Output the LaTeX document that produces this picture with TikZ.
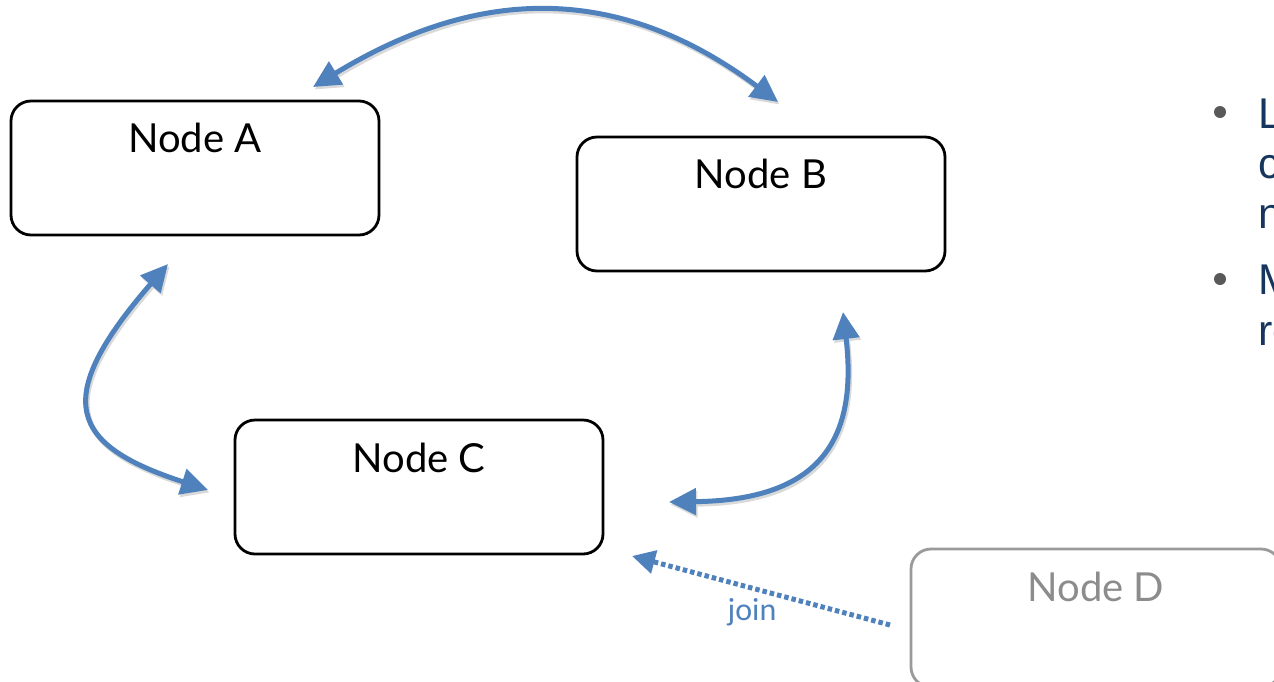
\documentclass[tikz,border=0pt]{standalone}
\usepackage{fontspec}
\setmainfont{Lato}
\newfontfamily\joinfont{Carlito}
\newfontfamily\listfont{Liberation Sans}
\usetikzlibrary{arrows.meta,calc}
\definecolor{linkblue}{HTML}{4F81BD}
\definecolor{linkshade}{HTML}{D9D9D9}
\definecolor{ghost}{HTML}{8C8C8C}
\definecolor{ghostline}{HTML}{9A9A9A}
\definecolor{listnavy}{HTML}{17365D}
\definecolor{bulletgray}{HTML}{595959}
\begin{document}
\begin{tikzpicture}[x=1pt,y=-1pt,
  nodebox/.style={draw=black,line width=2.8pt,rounded corners=20pt,
    minimum width=368pt,minimum height=134pt,inner sep=0pt},
  ghostbox/.style={nodebox,draw=ghostline,line width=2.8pt,
    minimum width=370pt,minimum height=138pt},
  title/.style={font=\fontsize{40}{48}\selectfont,anchor=base,inner sep=0pt},
  link/.style={draw=linkblue,line width=5pt,
    {Triangle[length=27pt,width=26pt]}-{Triangle[length=27pt,width=26pt]}},
  linkshadow/.style={link,draw=linkshade,transform canvas={shift={(1.5pt,-2.5pt)}}},
  joinlink/.style={draw=linkblue,line width=5pt,dash pattern=on 4.5pt off 3pt,
    -{Triangle[length=23pt,width=23pt]}},
  listtext/.style={font=\listfont\fontsize{43}{50}\selectfont,text=listnavy,
    anchor=base west,inner sep=0pt},
  bullet/.style={circle,fill=bulletgray,minimum size=12pt,inner sep=0pt}]
\useasboundingbox (0,0) rectangle (1274,681);
\clip (0,0) rectangle (1274,681);

% boxes
\node[nodebox] (A) at (195,168) {};
\node[nodebox] (B) at (761,204) {};
\node[nodebox] (C) at (419,487) {};
\node[ghostbox] (D) at (1096,618) {};

% titles sit near the top edge of each box
\node[title] (At) at ($(A.north)+(0,53)$) {Node A};
\node[title] (Bt) at ($(B.north)+(0,53)$) {Node B};
\node[title] (Ct) at ($(C.north)+(0,54)$) {Node C};
\node[title,text=ghost] (Dt) at ($(D.north)+(0,54)$) {Node D};

% arrow end points
\coordinate (ab1) at (313,87);
\coordinate (ab2) at (778,102);
\coordinate (ac1) at (168,264);
\coordinate (ac2) at (208,490);
\coordinate (bc1) at (843,312);
\coordinate (bc2) at (669,502);
\coordinate (dc1) at (890,625);
\coordinate (dc2) at (632,556);

% soft shadows under the curved links
\draw[linkshadow] (ab1) .. controls (480,-15) and (620,-16) .. (ab2);
\draw[linkshadow] (ac1) .. controls (50,400) and (70,445) .. (ac2);
\draw[linkshadow] (bc1) .. controls (858,440) and (820,500) .. (bc2);

\draw[link] (ab1) .. controls (480,-15) and (620,-16) .. (ab2);
\draw[link] (ac1) .. controls (50,400) and (70,445) .. (ac2);
\draw[link] (bc1) .. controls (858,440) and (820,500) .. (bc2);
\draw[joinlink] (dc1) -- (dc2);
\node[font=\joinfont\fontsize{32}{38}\selectfont,text=linkblue] (jl) at (752,612) {join};

% bullet list running off the right edge
\node[bullet] (b1) at (1220,112) {};
\node[bullet] (b2) at (1220,279) {};
\node[listtext] (l1) at (1258,128) {L};
\node[listtext] (l2) at (1258,178) {c};
\node[listtext] (l3) at (1258,228) {n};
\node[listtext] (l4) at (1258,294) {M};
\node[listtext] (l5) at (1258,345) {re};
\end{tikzpicture}
\end{document}
